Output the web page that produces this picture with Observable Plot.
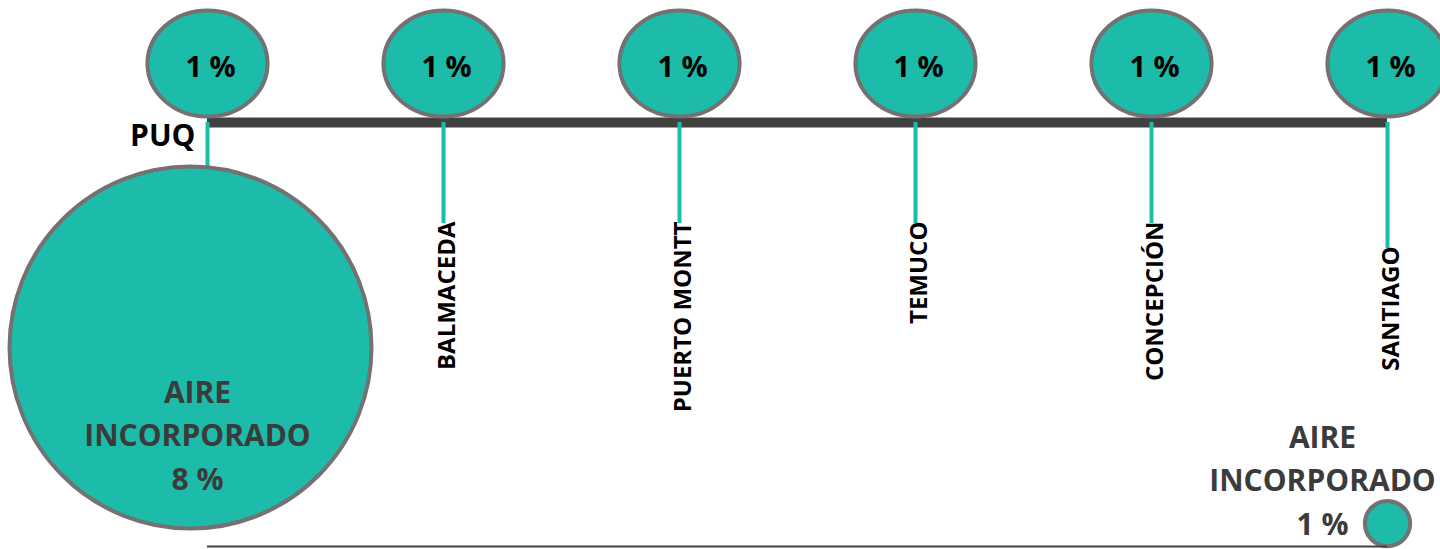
<!DOCTYPE html>
<html>
<head>
<meta charset="utf-8">
<script src="https://cdn.jsdelivr.net/npm/d3@7"></script>
<script src="https://cdn.jsdelivr.net/npm/@observablehq/plot@0.6"></script>
<style>
  html, body { margin: 0; padding: 0; background: #fff; }
  #chart svg { display: block; font-family: "Open Sans", sans-serif; }
</style>
</head>
<body>
<div id="chart"></div>
<script>
// ---- data ----
const cities = ["PUQ", "BALMACEDA", "PUERTO MONTT", "TEMUCO", "CONCEPCIÓN", "SANTIAGO"];
const airePct = [1, 1, 1, 1, 1, 1];          // air incorporated at each stop (%)
const originAire = 8;                         // AIRE INCORPORADO at PUQ (%)
const destinationAire = 1;                    // AIRE INCORPORADO at SANTIAGO (%)
const aireLabel = "AIRE\nINCORPORADO";

// ---- layout (pixels) ----
const BAR_Y = 122, BUBBLE_Y = 63, BUBBLE_TEXT_Y = 67;
const LABEL_TOP = [170, 223, 223, 223, 223, 248];
const BIG_Y = 347, SMALL_Y = 523, BOTTOM_Y = 546;
const TEAL = "#1cbbaa", RING = "#767171", DARK = "#404040";

const rows = cities.map((c, i) => ({city: c, pct: airePct[i], top: LABEL_TOP[i]}));
const stops = rows.slice(1);

// ellipse symbol for the top bubbles
const ellipse = {
  draw(ctx, size) {
    const r = Math.sqrt(size / Math.PI), a = r * 1.065, b = r * 0.94, k = 0.5523;
    ctx.moveTo(a, 0);
    ctx.bezierCurveTo(a, b * k, a * k, b, 0, b);
    ctx.bezierCurveTo(-a * k, b, -a, b * k, -a, 0);
    ctx.bezierCurveTo(-a, -b * k, -a * k, -b, 0, -b);
    ctx.bezierCurveTo(a * k, -b, a, -b * k, a, 0);
    ctx.closePath();
  }
};

const chart = Plot.plot({
  width: 1440,
  height: 549,
  margin: 0,
  x: {type: "point", domain: cities, range: [207, 1387], padding: 0, align: 0.5, axis: null},
  y: {type: "linear", domain: [0, 549], range: [0, 549], axis: null},
  r: {type: "linear", domain: [0, 8], range: [0, 181]},
  marks: [
    // main route bar
    Plot.ruleY([BAR_Y], {x1: () => cities[0], x2: () => cities[cities.length - 1], stroke: DARK, strokeWidth: 10}),
    // drop lines
    Plot.ruleX(rows, {x: "city", y1: BAR_Y, y2: "top", stroke: TEAL, strokeWidth: 4}),
    // top bubbles
    Plot.dot(rows, {x: "city", y: () => BUBBLE_Y, r: 56.4, symbol: ellipse, fill: TEAL, stroke: RING, strokeWidth: 4}),
    Plot.text(rows, {x: "city", y: () => BUBBLE_TEXT_Y, text: d => `${d.pct} %`, dx: 3, fill: "#000", fontSize: 29, fontWeight: "bold"}),
    // PUQ label
    Plot.text([cities[0]], {x: d => d, y: () => 136, text: d => d, textAnchor: "end", dx: -12, fill: "#000", fontSize: 30, fontWeight: "bold"}),
    // rotated stop labels
    Plot.text(stops, {x: "city", y: d => d.top - 2, text: "city", rotate: -90, textAnchor: "end", dx: 4, fill: "#000", fontSize: 24, fontWeight: "bold"}),
    // origin big bubble
    Plot.dot([originAire], {x: () => cities[0], y: () => BIG_Y, r: d => d, dx: -17, fill: TEAL, stroke: RING, strokeWidth: 4}),
    Plot.text([originAire], {x: () => cities[0], y: () => 432, text: d => `${aireLabel}\n${d} %`, dx: -10, fill: "#3b3b3b", fontSize: 30, fontWeight: "bold", lineHeight: 1.44}),
    // destination small bubble
    Plot.dot([destinationAire], {x: () => cities[cities.length - 1], y: () => SMALL_Y, r: d => d, fill: TEAL, stroke: RING, strokeWidth: 4}),
    Plot.text([destinationAire], {x: () => cities[cities.length - 1], y: () => 477, text: d => `${aireLabel}\n${d} %`, dx: -65, fill: "#3b3b3b", fontSize: 30, fontWeight: "bold", lineHeight: 1.44}),
    // bottom baseline
    Plot.ruleY([BOTTOM_Y], {x1: () => cities[0], x2: () => cities[cities.length - 1], stroke: DARK, strokeWidth: 2})
  ]
});
document.getElementById("chart").appendChild(chart);
</script>
</body>
</html>
